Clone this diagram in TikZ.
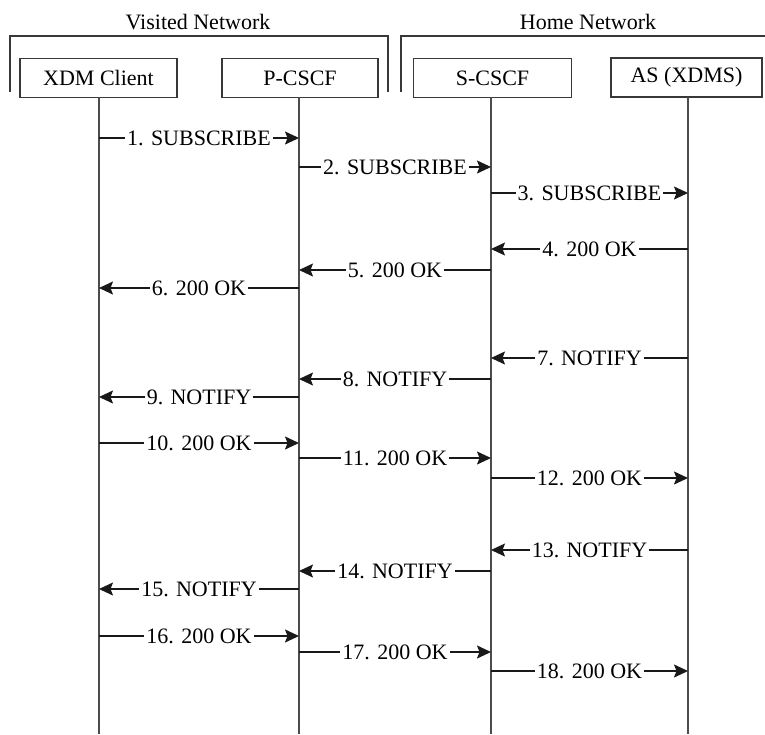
\documentclass[tikz,border=0pt]{standalone}
\usepackage{fontspec}
\setmainfont{Liberation Serif}
\usetikzlibrary{arrows.meta}
\begin{document}
\begin{tikzpicture}[x=1pt,y=-1pt,
  every node/.style={font=\fontsize{22}{26}\selectfont},
  ln/.style={draw=black!78,line width=1.6pt},
  entity/.style={ln,rectangle,minimum height=39pt,inner sep=0pt},
  life/.style={draw=black!70,line width=1.6pt},
  msg/.style={line width=1.5pt,draw=black!90,-{Stealth[length=14pt,width=13pt,inset=2.5pt]}},
  lab/.style={fill=white,inner sep=2pt}]
\useasboundingbox (0,0) rectangle (765,734);
% network brackets
\draw[ln] (10,92) -- (10,36) -- (388,36) -- (388,92);
\draw[ln] (401,92) -- (401,36) -- (767,36);
\node (vn) at (198,22) {Visited Network};
\node (hn) at (588,22) {Home Network};
% entities
\node[entity,minimum width=157pt] (xdm) at (98.5,78) {XDM Client};
\node[entity,minimum width=156pt] (pcscf) at (300,78) {P-CSCF};
\node[entity,minimum width=158pt] (scscf) at (492.5,78) {S-CSCF};
\node[entity,minimum width=151pt] (as) at (686.5,77.5) {AS (XDMS)};
% lifelines
\coordinate (L1) at (99,97);
\coordinate (L2) at (299,97);
\coordinate (L3) at (491,97);
\coordinate (L4) at (688,97);
\coordinate (E1) at (99,734);
\coordinate (E2) at (299,734);
\coordinate (E3) at (491,734);
\coordinate (E4) at (688,734);
\draw[life] (L1) -- (E1);
\draw[life] (L2) -- (E2);
\draw[life] (L3) -- (E3);
\draw[life] (L4) -- (E4);
% messages
\draw[msg] (L1 |- 0,138) -- node[lab]{1. SUBSCRIBE} (L2 |- 0,138);
\draw[msg] (L2 |- 0,167) -- node[lab]{2. SUBSCRIBE} (L3 |- 0,167);
\draw[msg] (L3 |- 0,193) -- node[lab]{3. SUBSCRIBE} (L4 |- 0,193);
\draw[msg] (L4 |- 0,249) -- node[lab]{4. 200 OK} (L3 |- 0,249);
\draw[msg] (L3 |- 0,270) -- node[lab]{5. 200 OK} (L2 |- 0,270);
\draw[msg] (L2 |- 0,288) -- node[lab]{6. 200 OK} (L1 |- 0,288);
\draw[msg] (L4 |- 0,358) -- node[lab]{7. NOTIFY} (L3 |- 0,358);
\draw[msg] (L3 |- 0,379) -- node[lab]{8. NOTIFY} (L2 |- 0,379);
\draw[msg] (L2 |- 0,397) -- node[lab]{9. NOTIFY} (L1 |- 0,397);
\draw[msg] (L1 |- 0,443) -- node[lab]{10. 200 OK} (L2 |- 0,443);
\draw[msg] (L2 |- 0,458) -- node[lab]{11. 200 OK} (L3 |- 0,458);
\draw[msg] (L3 |- 0,478) -- node[lab]{12. 200 OK} (L4 |- 0,478);
\draw[msg] (L4 |- 0,550) -- node[lab]{13. NOTIFY} (L3 |- 0,550);
\draw[msg] (L3 |- 0,571) -- node[lab]{14. NOTIFY} (L2 |- 0,571);
\draw[msg] (L2 |- 0,589) -- node[lab]{15. NOTIFY} (L1 |- 0,589);
\draw[msg] (L1 |- 0,636) -- node[lab]{16. 200 OK} (L2 |- 0,636);
\draw[msg] (L2 |- 0,652) -- node[lab]{17. 200 OK} (L3 |- 0,652);
\draw[msg] (L3 |- 0,671) -- node[lab]{18. 200 OK} (L4 |- 0,671);
\end{tikzpicture}
\end{document}
